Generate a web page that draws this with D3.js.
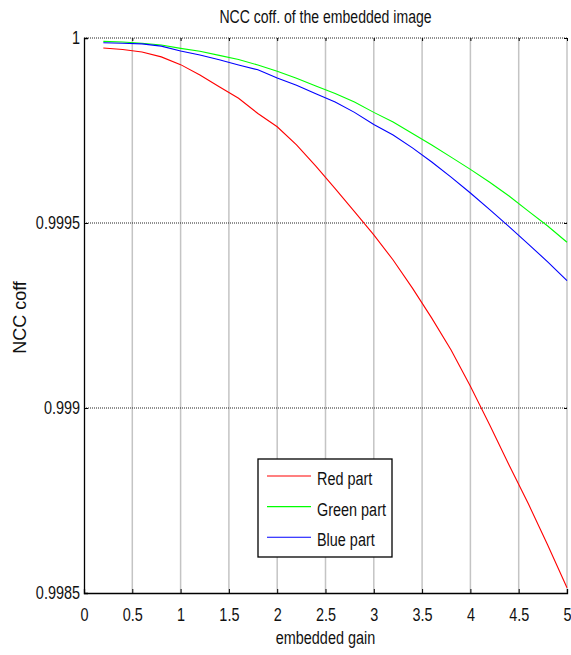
<!DOCTYPE html>
<html>
<head>
<meta charset="utf-8">
<script src="https://cdn.jsdelivr.net/npm/d3@7"></script>
<style>
  body { margin: 0; background: #fff; }
  svg text { font-family: "Liberation Sans", Arial, sans-serif; fill: #111; }
  /* narrow Helvetica look */
  .narrow { transform: scaleX(0.76); transform-box: fill-box; }
  .narrow.mid { transform-origin: center; }
  .narrow.end { transform-origin: right center; }
  .narrow.start { transform-origin: left center; }
</style>
</head>
<body>
<div id="chart"></div>
<script>
// embedded gain values
const gain = [0.2, 0.4, 0.6, 0.8, 1.0, 1.2, 1.4, 1.6, 1.8, 2.0, 2.2, 2.4, 2.6, 2.8, 3.0,
  3.2, 3.4, 3.6, 3.8, 4.0, 4.2, 4.4, 4.6, 4.8, 5.0]

const redPart = [0.999973, 0.999969, 0.999962, 0.999949, 0.999928, 0.9999, 0.999868, 0.999837, 0.999796,
  0.99976, 0.999711, 0.999654, 0.999593, 0.999531, 0.999468, 0.9994, 0.999324, 0.999243, 0.999157,
  0.999059, 0.998954, 0.998846, 0.998741, 0.99863, 0.998514]
const greenPart = [0.999991, 0.999989, 0.999986, 0.999981, 0.999972, 0.999964, 0.999953, 0.999942, 0.999927,
  0.99991, 0.999891, 0.99987, 0.99985, 0.999827, 0.999799, 0.999773, 0.999742, 0.999711, 0.999678,
  0.999645, 0.99961, 0.999573, 0.999532, 0.999492, 0.999448]
const bluePart = [0.999987, 0.999986, 0.999984, 0.999978, 0.999965, 0.999954, 0.999941, 0.999927, 0.999914,
  0.999892, 0.999872, 0.999849, 0.999827, 0.999799, 0.999766, 0.999738, 0.999703, 0.999665, 0.999624,
  0.999581, 0.999536, 0.99949, 0.999443, 0.999395, 0.999344]

const xTicks = [0, 0.5, 1, 1.5, 2, 2.5, 3, 3.5, 4, 4.5, 5]
const yTicks = [0.9985, 0.999, 0.9995, 1]
const yTickLabels = ['0.9985', '0.999', '0.9995', '1']

const series = [
  { name: 'Red part', values: redPart, color: '#ff0000' },
  { name: 'Green part', values: greenPart, color: '#00ff00' },
  { name: 'Blue part', values: bluePart, color: '#0000ff' },
]

const size = { width: 571, height: 655 }
const plot = { left: 84, right: 567, top: 38, bottom: 593 }

const svg = d3.select('#chart').append('svg')
  .attr('width', size.width)
  .attr('height', size.height)

const x = d3.scaleLinear().domain([0, 5]).range([plot.left, plot.right])
const y = d3.scaleLinear().domain([0.9985, 1]).range([plot.bottom, plot.top])

// vertical grid (grey, solid)
svg.append('g')
  .selectAll('line')
  .data(xTicks.slice(1))
  .enter()
  .append('line')
  .attr('x1', d => x(d)).attr('x2', d => x(d))
  .attr('y1', plot.top).attr('y2', plot.bottom)
  .attr('stroke', '#c4c4c4')
  .attr('stroke-width', 1.5)

// horizontal grid (black, dotted)
svg.append('g')
  .selectAll('line')
  .data(yTicks.slice(1))
  .enter()
  .append('line')
  .attr('x1', plot.left).attr('x2', plot.right)
  .attr('y1', d => y(d)).attr('y2', d => y(d))
  .attr('stroke', '#222')
  .attr('stroke-width', 1)
  .attr('stroke-dasharray', '1,1')

// bottom axis
svg.append('g')
  .attr('transform', `translate(0,${plot.bottom})`)
  .call(d3.axisBottom(x).tickValues(xTicks).tickSize(-4).tickFormat(d3.format('')))
  .call(g => g.select('.domain').attr('stroke', '#000').attr('stroke-width', 1.3))
  .call(g => g.selectAll('text')
    .attr('y', 28).attr('dy', 0)
    .attr('font-size', 19)
    .attr('class', 'narrow mid'))

// left axis
svg.append('g')
  .attr('transform', `translate(${plot.left},0)`)
  .call(d3.axisLeft(y).tickValues(yTicks).tickSize(-4).tickFormat((d, i) => yTickLabels[i]))
  .call(g => g.select('.domain').attr('stroke', '#000').attr('stroke-width', 1.3))
  .call(g => g.selectAll('text')
    .attr('x', -4).attr('dy', '0.3em')
    .attr('font-size', 19)
    .attr('class', 'narrow end'))

// top and right tick marks
svg.append('g')
  .attr('transform', `translate(0,${plot.top})`)
  .call(d3.axisTop(x).tickValues(xTicks).tickSize(-3).tickFormat(''))
  .call(g => g.select('.domain').remove())
svg.append('g')
  .attr('transform', `translate(${plot.right},0)`)
  .call(d3.axisRight(y).tickValues(yTicks).tickSize(-3).tickFormat(''))
  .call(g => g.select('.domain').remove())

// curves
const line = d3.line()
  .x((d, i) => x(gain[i]))
  .y(d => y(d))

svg.append('g')
  .selectAll('path')
  .data(series)
  .enter()
  .append('path')
  .attr('d', d => line(d.values))
  .attr('fill', 'none')
  .attr('stroke', d => d.color)
  .attr('stroke-width', 1.1)

// title and labels
svg.append('text')
  .attr('x', (plot.left + plot.right) / 2)
  .attr('y', 23)
  .attr('text-anchor', 'middle')
  .attr('font-size', 18.5)
  .attr('class', 'narrow mid')
  .text('NCC coff. of the embedded image')

svg.append('text')
  .attr('x', (plot.left + plot.right) / 2)
  .attr('y', 644)
  .attr('text-anchor', 'middle')
  .attr('font-size', 19)
  .attr('class', 'narrow mid')
  .text('embedded gain')

svg.append('text')
  .attr('transform', `translate(26,${(plot.top + plot.bottom) / 2 + 2}) rotate(-90)`)
  .attr('text-anchor', 'middle')
  .attr('font-size', 18)
  .text('NCC coff')

// legend
const legend = svg.append('g').attr('transform', 'translate(258,459)')
legend.append('rect')
  .attr('width', 134)
  .attr('height', 98)
  .attr('fill', '#fff')
  .attr('stroke', '#000')
  .attr('stroke-width', 1.3)

const rows = legend.selectAll('g.row')
  .data(series)
  .enter()
  .append('g')
  .attr('class', 'row')
  .attr('transform', (d, i) => `translate(0,${17 + i * 30.6})`)

rows.append('line')
  .attr('x1', 9).attr('x2', 53)
  .attr('stroke', d => d.color)
  .attr('stroke-width', 1.1)

rows.append('text')
  .attr('x', 59)
  .attr('y', 9)
  .attr('font-size', 19)
  .attr('class', 'narrow start')
  .text(d => d.name)
</script>
</body>
</html>
